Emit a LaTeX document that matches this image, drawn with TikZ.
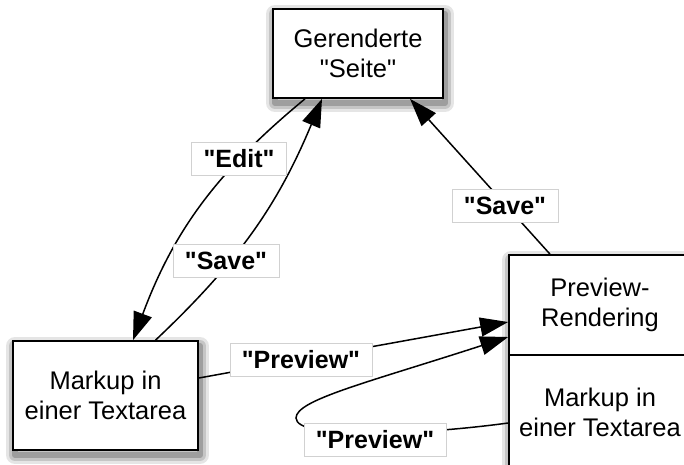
\documentclass[tikz,border=0pt]{standalone}
\usepackage{fontspec}
\setmainfont{Liberation Sans}[Ligatures=TeXOff]
\usetikzlibrary{arrows.meta}
\begin{document}
\begin{tikzpicture}[x=1pt,y=1pt,
  shad/.style={
    preaction={draw=black, draw opacity=0.10, line width=18pt, line join=round, transform canvas={xshift=2pt,yshift=-5pt}},
    preaction={draw=black, draw opacity=0.14, line width=12pt, line join=round, transform canvas={xshift=2pt,yshift=-5pt}},
    preaction={draw=black, draw opacity=0.20, line width=6pt, line join=round, transform canvas={xshift=2pt,yshift=-5pt}}},
  box/.style={draw=black, line width=1.7pt, fill=white, align=center, font=\fontsize{25.5}{30}\selectfont, inner sep=0pt},
  lbl/.style={draw=black!18, line width=0.6pt, fill=white, font=\fontsize{25}{30}\selectfont\bfseries, inner xsep=12pt, inner ysep=5.5pt, text height=19pt, text depth=3pt},
  conn/.style={draw=black, line width=1.5pt, -{Triangle[length=28pt,width=19pt,fill=black]}}]
\useasboundingbox (0,0) rectangle (684,-464);
% boxes
\node[box, shad, minimum width=170pt, minimum height=89pt] (top) at (358,-53.5) {Gerenderte\\"Seite"};
\node[box, shad, minimum width=185pt, minimum height=109pt] (left) at (105.5,-395.5) {Markup in\\einer Textarea};
\path[shad, fill=white] (509,-255) rectangle (691,-470);
\node[box, minimum width=182pt, minimum height=115pt] (mk2) at (600,-412.5) {Markup in\\einer Textarea};
\node[box, minimum width=182pt, minimum height=100pt] (prev) at (600,-305) {Preview-\\Rendering};
\coordinate (loop) at (296,-418);
% connectors
\draw[conn] ([xshift=-53pt]top.south) to[bend right=15] ([xshift=27.5pt]left.north);
\draw[conn] ([xshift=50pt]left.north) to[bend right=12] ([xshift=-36pt]top.south);
\draw[conn] ([xshift=-50pt]prev.north) -- ([xshift=52pt]top.south);
\draw[conn] ([yshift=17.5pt]left.east) -- ([yshift=-17pt]prev.west);
\draw[conn] ([yshift=-10.5pt]mk2.west) .. controls (420,-435) and (296,-440) .. (loop) .. controls (296,-400) and (366,-383) .. ([yshift=-32pt]prev.west);
% labels
\node[lbl] (ledit) at (239,-159) {"Edit"};
\node[lbl] (lsave1) at (226,-261) {"Save"};
\node[lbl] (lsave2) at (505,-206) {"Save"};
\node[lbl] (lprev1) at (301,-360) {"Preview"};
\node[lbl] (lprev2) at (375,-440) {"Preview"};
\end{tikzpicture}
\end{document}
